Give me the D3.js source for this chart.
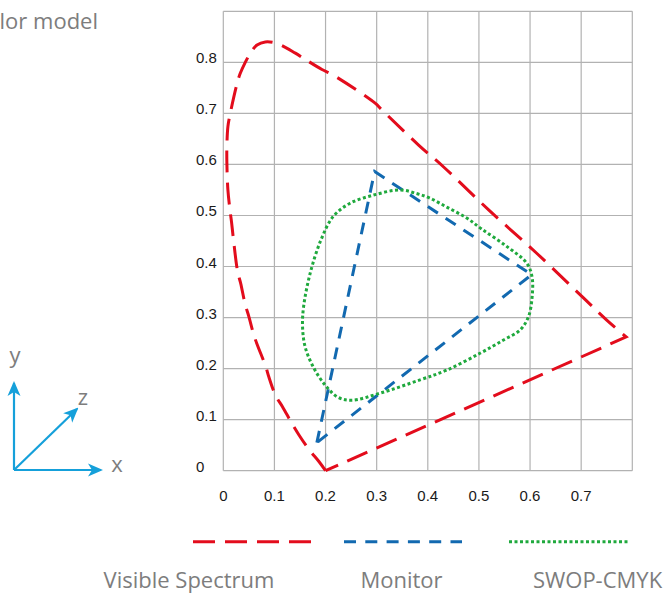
<!DOCTYPE html>
<html>
<head>
<meta charset="utf-8">
<script src="https://cdn.jsdelivr.net/npm/d3@7"></script>
<style>
  html, body { margin: 0; padding: 0; background: #fff; }
  svg { display: block; }
</style>
</head>
<body>
<svg id="chart" width="669" height="595"></svg>
<script>
// ---------- data ----------
const xTickValues = [0, 0.1, 0.2, 0.3, 0.4, 0.5, 0.6, 0.7];
const yTickValues = [0, 0.1, 0.2, 0.3, 0.4, 0.5, 0.6, 0.7, 0.8];
const xTickLabels = ["0", "0.1", "0.2", "0.3", "0.4", "0.5", "0.6", "0.7"];
const yTickLabels = ["0", "0.1", "0.2", "0.3", "0.4", "0.5", "0.6", "0.7", "0.8"];

// Visible spectrum (spectral locus), from the bottom vertex up the left side to the red end
const spectrumX = [0.200, 0.187, 0.168, 0.148, 0.134, 0.116, 0.102, 0.089, 0.083, 0.061, 0.050, 0.043,
  0.034, 0.028, 0.020, 0.016, 0.013, 0.009, 0.007, 0.007, 0.009, 0.013, 0.027, 0.033, 0.042, 0.053,
  0.066, 0.082, 0.105, 0.141, 0.160, 0.193, 0.215, 0.297, 0.310, 0.382, 0.431, 0.519, 0.613, 0.705,
  0.750, 0.788];
const spectrumY = [0.000, 0.018, 0.041, 0.070, 0.093, 0.125, 0.148, 0.184, 0.204, 0.262, 0.302, 0.325,
  0.367, 0.390, 0.452, 0.488, 0.511, 0.550, 0.603, 0.635, 0.674, 0.697, 0.759, 0.778, 0.798, 0.818,
  0.834, 0.840, 0.837, 0.818, 0.806, 0.786, 0.775, 0.720, 0.707, 0.638, 0.595, 0.511, 0.426, 0.338,
  0.295, 0.262];

// Monitor gamut triangle
const monitorX = [0.183, 0.296, 0.603];
const monitorY = [0.055, 0.586, 0.384];

// SWOP-CMYK gamut (closed)
const swopX = [0.346, 0.378, 0.404, 0.438, 0.476, 0.506, 0.555, 0.594, 0.604, 0.604, 0.597, 0.581,
  0.548, 0.502, 0.437, 0.385, 0.307, 0.251, 0.224, 0.199, 0.176, 0.160, 0.155, 0.157, 0.170, 0.191,
  0.215, 0.248, 0.294];
const swopY = [0.550, 0.543, 0.534, 0.516, 0.495, 0.473, 0.439, 0.406, 0.379, 0.340, 0.302, 0.276,
  0.256, 0.230, 0.197, 0.178, 0.152, 0.138, 0.144, 0.168, 0.203, 0.243, 0.282, 0.321, 0.387, 0.452,
  0.498, 0.524, 0.540];

const legendLabels = ["Visible Spectrum", "Monitor", "SWOP-CMYK"];
const titleText = "lor model";   // the part of the title visible in the reference
const axisLetters = ["x", "y", "z"];

// ---------- drawing ----------
const svg = d3.select("#chart");
const x = d3.scaleLinear().domain([0, 0.8]).range([223.3, 632.3]);
const y = d3.scaleLinear().domain([0, 0.9]).range([470.7, 11.3]);

const RED = "#e30c1c", BLUE = "#1269b0", GREEN = "#1fa93d", CYAN = "#15a0da";
const GREY_TXT = "#7d7d7d";

// grid
const grid = svg.append("g").attr("stroke", "#b2b2b2").attr("stroke-width", 1.2).attr("fill", "none");
grid.selectAll("line.v").data(d3.range(0, 9).map(i => i / 10)).join("line")
  .attr("x1", d => x(d)).attr("x2", d => x(d)).attr("y1", y(0)).attr("y2", y(0.9));
grid.selectAll("line.h").data(d3.range(0, 10).map(i => i / 10)).join("line")
  .attr("y1", d => y(d)).attr("y2", d => y(d)).attr("x1", x(0)).attr("x2", x(0.8));

// tick labels
const tickFont = "'Liberation Sans', Arial, sans-serif";
svg.append("g").selectAll("text").data(xTickValues).join("text")
  .attr("x", d => x(d)).attr("y", 501)
  .attr("text-anchor", "middle")
  .attr("font-family", tickFont).attr("font-size", 15).attr("fill", "#1a1a1a")
  .text((d, i) => xTickLabels[i]);
svg.append("g").selectAll("text").data(yTickValues).join("text")
  .attr("x", 196).attr("y", d => y(d) + 1)
  .attr("text-anchor", "start")
  .attr("font-family", tickFont).attr("font-size", 15).attr("fill", "#1a1a1a")
  .text((d, i) => yTickLabels[i]);

// series
const spectrumPts = spectrumX.map((v, i) => [v, spectrumY[i]]);
const monitorPts = monitorX.map((v, i) => [v, monitorY[i]]);
const swopPts = swopX.map((v, i) => [v, swopY[i]]);

const curveLine = d3.line().x(d => x(d[0])).y(d => y(d[1])).curve(d3.curveCatmullRom.alpha(0.5));
const spectrumD = curveLine(spectrumPts) + "L" + x(spectrumX[0]) + "," + y(spectrumY[0]);

svg.append("path").attr("d", spectrumD)
  .attr("fill", "none").attr("stroke", RED).attr("stroke-width", 3)
  .attr("stroke-dasharray", "22,10");

svg.append("path")
  .attr("d", d3.line().x(d => x(d[0])).y(d => y(d[1])).curve(d3.curveLinearClosed)(monitorPts))
  .attr("fill", "none").attr("stroke", BLUE).attr("stroke-width", 3)
  .attr("stroke-dasharray", "12,9.3");

svg.append("path")
  .attr("d", d3.line().x(d => x(d[0])).y(d => y(d[1])).curve(d3.curveCatmullRomClosed.alpha(0.5))(swopPts))
  .attr("fill", "none").attr("stroke", GREEN).attr("stroke-width", 3)
  .attr("stroke-dasharray", "3,2.5");

// legend
const legendColors = [RED, BLUE, GREEN];
const legendDash = ["22,10", "12,9.3", "3,2.5"];
const legendLineX = [[193, 311], [344, 462], [509, 630]];
const legendTextX = [189, 401.5, 597.5];
const lg = svg.append("g");
legendLabels.forEach((lab, i) => {
  lg.append("line")
    .attr("x1", legendLineX[i][0]).attr("x2", legendLineX[i][1])
    .attr("y1", 541.7).attr("y2", 541.7)
    .attr("stroke", legendColors[i]).attr("stroke-width", 3)
    .attr("stroke-dasharray", legendDash[i]);
  lg.append("text")
    .attr("x", legendTextX[i]).attr("y", 588)
    .attr("text-anchor", "middle")
    .attr("font-family", "'Open Sans', 'Noto Sans', sans-serif").attr("font-size", 22)
    .attr("fill", GREY_TXT)
    .text(lab);
});

// title fragment
svg.append("text")
  .attr("x", 98).attr("y", 29).attr("text-anchor", "end")
  .attr("font-family", "'Open Sans', 'Noto Sans', sans-serif").attr("font-size", 22)
  .attr("fill", GREY_TXT).text(titleText);

// axis icon
const defs = svg.append("defs");
defs.append("marker").attr("id", "arrow")
  .attr("viewBox", "0 -7 15 14").attr("refX", 13).attr("refY", 0)
  .attr("markerWidth", 15).attr("markerHeight", 14)
  .attr("markerUnits", "userSpaceOnUse").attr("orient", "auto")
  .append("path").attr("d", "M0,-6.5L15,0L0,6.5L4,0Z").attr("fill", CYAN);

const origin = [14, 470];
const tips = [[101, 470], [14, 383], [77, 409]];
tips.forEach(t => {
  svg.append("line")
    .attr("x1", origin[0]).attr("y1", origin[1]).attr("x2", t[0]).attr("y2", t[1])
    .attr("stroke", CYAN).attr("stroke-width", 2.2)
    .attr("marker-end", "url(#arrow)");
});
const letterPos = [[117, 472], [15, 363], [83, 405]];
axisLetters.forEach((l, i) => {
  svg.append("text")
    .attr("x", letterPos[i][0]).attr("y", letterPos[i][1]).attr("text-anchor", "middle")
    .attr("font-family", "'Open Sans', 'Noto Sans', sans-serif").attr("font-size", 22)
    .attr("fill", GREY_TXT).text(l);
});
</script>
</body>
</html>
